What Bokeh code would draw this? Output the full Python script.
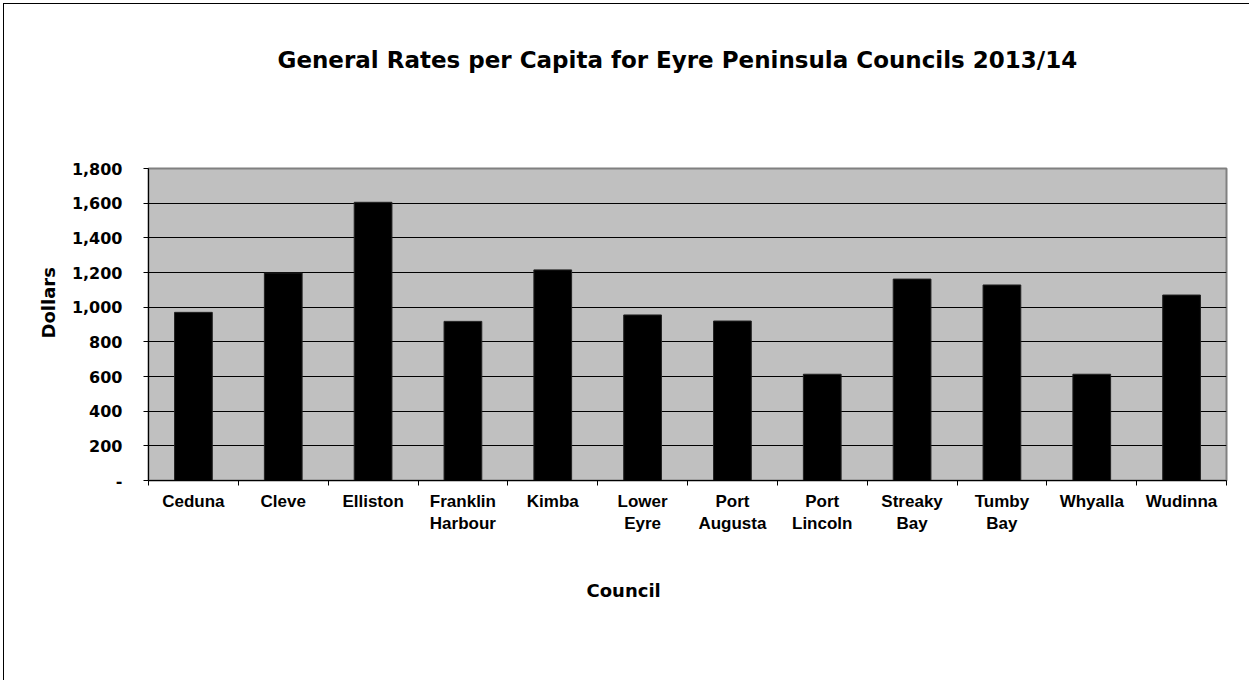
from bokeh.plotting import figure
from bokeh.models import (Range1d, FixedTicker, SingleIntervalTicker, NumeralTickFormatter,
                          Title, ColumnDataSource)
from bokeh.embed import file_html
from bokeh.resources import INLINE

councils = ["Ceduna", "Cleve", "Elliston", "Franklin Harbour", "Kimba", "Lower Eyre",
            "Port Augusta", "Port Lincoln", "Streaky Bay", "Tumby Bay", "Whyalla", "Wudinna"]
rates = [970, 1197, 1605, 918, 1215, 955, 920, 613, 1162, 1128, 613, 1070]
tick_labels = ["Ceduna", "Cleve", "Elliston", "Franklin\nHarbour", "Kimba", "Lower\nEyre",
               "Port\nAugusta", "Port\nLincoln", "Streaky\nBay", "Tumby\nBay", "Whyalla", "Wudinna"]
y_max = 1800
y_step = 200

FONT = "Liberation Sans"
WIDE = "DejaVu Sans"

n = len(councils)
centers = [i + 0.5 for i in range(n)]
src = ColumnDataSource(dict(x=centers, council=councils, rate=rates))

p = figure(width=1246, height=677, output_backend="svg", toolbar_location=None,
           title=None,
           x_range=Range1d(0, n), y_range=Range1d(0, y_max),
           min_border_left=144, min_border_right=24,
           min_border_top=164, min_border_bottom=201)
p.background_fill_color = "#C0C0C0"
p.border_fill_color = "white"
p.outline_line_color = "#808080"
p.outline_line_width = 2

p.vbar(x="x", top="rate", width=0.42, source=src, fill_color="black", line_color="#222222")

xaxis = p.xaxis[0]
xaxis.ticker = FixedTicker(ticks=centers, minor_ticks=list(range(n + 1)))
xaxis.major_label_overrides = {c: t for c, t in zip(centers, tick_labels)}
xaxis.major_tick_line_color = None
xaxis.major_tick_out = 0
xaxis.major_tick_in = 0
xaxis.minor_tick_out = 5
xaxis.minor_tick_in = 0
xaxis.minor_tick_line_color = "black"
xaxis.axis_line_color = "black"
xaxis.major_label_text_font = FONT
xaxis.major_label_text_font_style = "bold"
xaxis.major_label_text_font_size = "17px"
xaxis.major_label_text_color = "black"
xaxis.major_label_standoff = 6

yaxis = p.yaxis[0]
yaxis.ticker = SingleIntervalTicker(interval=y_step)
yaxis.formatter = NumeralTickFormatter(format="0,0")
yaxis.major_label_overrides = {0: "-"}
yaxis.major_label_text_font = WIDE
yaxis.major_label_text_font_style = "bold"
yaxis.major_label_text_font_size = "16px"
yaxis.major_label_text_color = "black"
yaxis.major_label_standoff = 21
yaxis.major_tick_out = 5
yaxis.major_tick_in = 0
yaxis.minor_tick_line_color = None
yaxis.axis_line_color = "black"
yaxis.major_tick_line_color = "black"

p.xgrid.grid_line_color = None
p.ygrid.grid_line_color = "black"
p.ygrid.grid_line_width = 1

# blank spacer between the frame and the chart title
spacer = Title(text=" ", standoff=83, text_font_size="10px", text_color="white")
p.add_layout(spacer, "above")
main_title = Title(text="General Rates per Capita for Eyre Peninsula Councils 2013/14",
                   align="left", offset=129, standoff=0,
                   text_font=WIDE, text_font_style="bold", text_font_size="23px",
                   text_color="black")
p.add_layout(main_title, "above")

ylab = Title(text="Dollars", align="left", offset=142, standoff=19,
             text_font=WIDE, text_font_style="bold", text_font_size="18px", text_color="black")
p.add_layout(ylab, "left")
xlab = Title(text="Council", align="left", offset=438, standoff=82,
             text_font=WIDE, text_font_style="bold", text_font_size="18px", text_color="black")
p.add_layout(xlab, "below")

p.styles = {"margin-left": "3px", "margin-top": "3px",
            "border-top": "1px solid black", "border-left": "1px solid black"}

open("out.html", "w").write(file_html(p, INLINE))
